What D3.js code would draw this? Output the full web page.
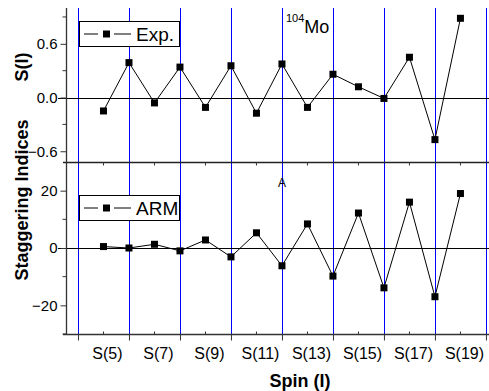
<!DOCTYPE html>
<html>
<head>
<meta charset="utf-8">
<script src="https://cdn.jsdelivr.net/npm/d3@7"></script>
<style>
  body { margin: 0; background: #fff; }
  svg { display: block; font-family: "Liberation Sans", Arial, sans-serif; }
</style>
</head>
<body>
<svg id="chart" width="489" height="391"></svg>
<script>
// spin values I for the staggering indices S(I)
const spins = [5, 6, 7, 8, 9, 10, 11, 12, 13, 14, 15, 16, 17, 18, 19];
const expValues = [-0.15, 0.39, -0.06, 0.34, -0.11, 0.355, -0.175, 0.375, -0.11, 0.26, 0.12, -0.01, 0.45, -0.47, 0.885];
const armValues = [0.5, 0.0, 1.3, -1.0, 2.8, -3.1, 5.3, -6.2, 8.4, -9.8, 12.2, -13.9, 16.0, -17.0, 19.0];
const gridSpins = [4, 6, 8, 10, 12, 14, 16, 18, 20];
const labelSpins = [5, 7, 9, 11, 13, 15, 17, 19];
const topTicks = [-0.6, 0.0, 0.6];
const topMinor = [-0.3, 0.3, 0.9];
const bottomTicks = [-20, 0, 20];
const bottomMinor = [-30, -10, 10];

const svg = d3.select('#chart');
const plotL = 66, plotR = 489, plotT = 8, plotM = 162, plotB = 334;

const x = d3.scaleLinear().domain([3.53, 20.12]).range([plotL, plotR]);
const yTop = d3.scaleLinear().domain([-0.72, 1.0]).range([plotM, plotT]);
const yBot = d3.scaleLinear().domain([-30, 30]).range([plotB, plotM]);

// blue vertical guides
svg.selectAll('.guide').data(gridSpins).enter()
  .append('line')
  .attr('class', 'guide')
  .attr('x1', d => Math.round(x(d)) + 0.5)
  .attr('x2', d => Math.round(x(d)) + 0.5)
  .attr('y1', plotT)
  .attr('y2', plotB)
  .style('stroke', '#0000ff')
  .style('stroke-width', 1);

// zero lines
[yTop, yBot].forEach(s => {
  svg.append('line')
    .attr('x1', 58).attr('x2', plotR)
    .attr('y1', Math.round(s(0)) + 0.5).attr('y2', Math.round(s(0)) + 0.5)
    .style('stroke', '#000').style('stroke-width', 1);
});

// panel separator and frame lines
svg.append('line')
  .attr('x1', 63).attr('x2', plotR)
  .attr('y1', plotM + 0.5).attr('y2', plotM + 0.5)
  .style('stroke', '#222').style('stroke-width', 1.3);
svg.append('line')
  .attr('x1', 63).attr('x2', plotR)
  .attr('y1', plotB + 0.5).attr('y2', plotB + 0.5)
  .style('stroke', '#333').style('stroke-width', 1.3);
svg.append('line')
  .attr('x1', plotL + 0.5).attr('x2', plotL + 0.5)
  .attr('y1', plotT).attr('y2', plotB)
  .style('stroke', '#333').style('stroke-width', 1.3);

// left axes
function leftAxis(scale, ticks, minor, fmt) {
  const g = svg.append('g').attr('transform', `translate(${plotL + 0.5},0)`);
  g.call(d3.axisLeft(scale).tickValues(ticks).tickSize(6).tickPadding(3).tickFormat(fmt));
  g.select('.domain').remove();
  g.selectAll('.tick line').style('stroke', '#333');
  g.selectAll('.tick text').style('font-size', '15px').style('fill', '#000')
    .style('font-family', '"Liberation Sans", Arial, sans-serif');
  g.selectAll('.minor').data(minor).enter()
    .append('line')
    .attr('x1', -4).attr('x2', 0)
    .attr('y1', d => scale(d)).attr('y2', d => scale(d))
    .style('stroke', '#333');
}
leftAxis(yTop, topTicks, topMinor, d3.format('.1f'));
leftAxis(yBot, bottomTicks, bottomMinor, d3.format('d'));

// ticks on the panel separator (downward, odd spins)
svg.selectAll('.midtick').data(labelSpins).enter()
  .append('line')
  .attr('x1', d => x(d)).attr('x2', d => x(d))
  .attr('y1', plotM).attr('y2', plotM + 3.5)
  .style('stroke', '#333');

// bottom axis: major ticks at even spins, minor inside at odd spins
const xAxis = svg.append('g').attr('transform', `translate(0,${plotB + 0.5})`);
xAxis.call(d3.axisBottom(x).tickValues(gridSpins.filter(d => x(d) < plotR)).tickSize(6).tickFormat(''));
xAxis.select('.domain').remove();
xAxis.selectAll('.tick line').style('stroke', '#333');
xAxis.selectAll('.minor').data(labelSpins).enter()
  .append('line')
  .attr('x1', d => x(d)).attr('x2', d => x(d))
  .attr('y1', -3).attr('y2', 0)
  .style('stroke', '#333');
svg.selectAll('.xlabel').data(labelSpins).enter()
  .append('text')
  .attr('class', 'xlabel')
  .attr('x', d => x(d) + 4)
  .attr('y', plotB + 25)
  .attr('text-anchor', 'middle')
  .style('font-size', '16px')
  .style('fill', '#000')
  .text(d => `S(${d})`);

// series
function series(scale, values) {
  const pts = spins.map((s, i) => [s, values[i]]);
  svg.append('path')
    .datum(pts)
    .attr('d', d3.line().x(d => x(d[0])).y(d => scale(d[1])))
    .style('fill', 'none').style('stroke', '#000').style('stroke-width', 1);
  svg.selectAll(null).data(pts).enter()
    .append('rect')
    .attr('x', d => x(d[0]) - 3.5).attr('y', d => scale(d[1]) - 3.5)
    .attr('width', 7).attr('height', 7)
    .style('fill', '#000');
}
series(yTop, expValues);
series(yBot, armValues);

// legends
function legend(y0, label) {
  const g = svg.append('g');
  g.append('rect')
    .attr('x', 79.5).attr('y', y0 + 0.5).attr('width', 100).attr('height', 25)
    .style('fill', '#fff').style('stroke', '#000');
  const cy = y0 + 13;
  g.append('line').attr('x1', 84).attr('x2', 98).attr('y1', cy).attr('y2', cy).style('stroke', '#000');
  g.append('line').attr('x1', 114).attr('x2', 131).attr('y1', cy).attr('y2', cy).style('stroke', '#000');
  g.append('rect').attr('x', 103).attr('y', cy - 3.5).attr('width', 7).attr('height', 7).style('fill', '#000');
  g.append('text').attr('x', 136).attr('y', cy + 7).style('font-size', '19px').text(label);
}
legend(21, 'Exp.');
legend(195, 'ARM');

// annotations
const mo = svg.append('text').attr('x', 286).attr('y', 33);
mo.append('tspan').attr('dy', -11).style('font-size', '11px').text('104');
mo.append('tspan').attr('dy', 11).style('font-size', '18px').text('Mo');
svg.append('text').attr('x', 282).attr('y', 187).attr('text-anchor', 'middle')
  .style('font-size', '12px').text('A');

// axis titles
svg.append('text')
  .attr('transform', 'translate(28,67) rotate(-90)')
  .attr('text-anchor', 'middle')
  .style('font-size', '18px').style('font-weight', 'bold')
  .text('S(I)');
svg.append('text')
  .attr('transform', 'translate(28,200) rotate(-90)')
  .attr('text-anchor', 'middle')
  .style('font-size', '18px').style('font-weight', 'bold')
  .text('Staggering Indices');
svg.append('text')
  .attr('x', 300).attr('y', 387)
  .attr('text-anchor', 'middle')
  .style('font-size', '18px').style('font-weight', 'bold')
  .text('Spin (I)');
</script>
</body>
</html>
